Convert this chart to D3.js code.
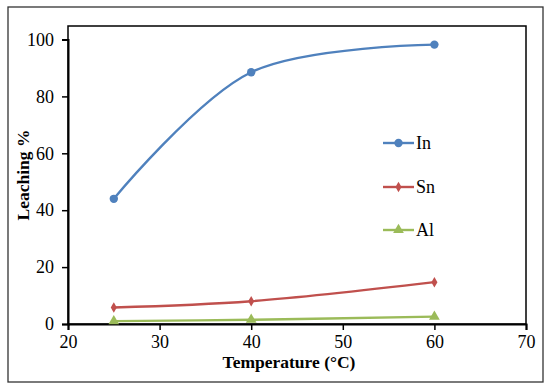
<!DOCTYPE html>
<html>
<head>
<meta charset="utf-8">
<script src="https://cdn.jsdelivr.net/npm/d3@7"></script>
<style>
  body { margin: 0; background: #fff; }
  svg text { font-family: "Liberation Serif", "Times New Roman", serif; fill: #000; }
</style>
</head>
<body>
<div id="chart"></div>
<script>
// data
const temps = [25, 40, 60];
const seriesNames = ["In", "Sn", "Al"];
const inValues = [44, 88.5, 98.2];
const snValues = [5.8, 8.0, 14.7];
const alValues = [1.0, 1.5, 2.6];
const xTicks = [20, 30, 40, 50, 60, 70];
const yTicks = [0, 20, 40, 60, 80, 100];

const width = 550, height = 389;
const serif = "'Liberation Serif', 'Times New Roman', serif";
const svg = d3.select("#chart").append("svg")
    .attr("width", width)
    .attr("height", height);

// outer chart border
svg.append("rect")
    .attr("x", 8).attr("y", 7)
    .attr("width", 535).attr("height", 375)
    .attr("fill", "none")
    .attr("stroke", "#333")
    .attr("stroke-width", 1.3);

const plotLeft = 68, plotRight = 526, plotTop = 26, plotBottom = 324;

const x = d3.scaleLinear().domain([20, 70]).range([plotLeft, plotRight]);
const y = d3.scaleLinear().domain([0, 100]).range([plotBottom, 39.5]);

// plot frame
svg.append("rect")
    .attr("x", plotLeft).attr("y", plotTop)
    .attr("width", plotRight - plotLeft).attr("height", plotBottom - plotTop)
    .attr("fill", "none")
    .attr("stroke", "#000")
    .attr("stroke-width", 1.5);

// axes
const xAxis = svg.append("g")
    .attr("transform", "translate(0," + plotBottom + ")")
    .call(d3.axisBottom(x).tickValues(xTicks).tickSize(6).tickPadding(5));
const yAxis = svg.append("g")
    .attr("transform", "translate(" + plotLeft + ",0)")
    .call(d3.axisLeft(y).tickValues(yTicks).tickSize(6).tickPadding(8));

[xAxis, yAxis].forEach(function(g) {
    g.attr("font-family", null);
    g.select(".domain").attr("stroke", "#000").attr("stroke-width", 2);
    g.selectAll(".tick line").attr("stroke", "#000").attr("stroke-width", 1.5);
    g.selectAll(".tick text")
        .style("font-family", serif)
        .style("font-size", "18px")
        .attr("fill", "#000");
});

// axis titles
svg.append("text")
    .attr("x", 289).attr("y", 368)
    .attr("text-anchor", "middle")
    .style("font-family", serif)
    .style("font-size", "17.5px")
    .attr("font-weight", "bold")
    .text("Temperature (°C)");
svg.append("text")
    .attr("transform", "translate(29,175) rotate(-90)")
    .attr("text-anchor", "middle")
    .style("font-family", serif)
    .style("font-size", "17.5px")
    .attr("font-weight", "bold")
    .text("Leaching %");

const series = [
    { name: seriesNames[0], values: inValues, color: "#4F81BD", symbol: d3.symbolCircle, size: 55 },
    { name: seriesNames[1], values: snValues, color: "#C0504D", symbol: d3.symbolDiamond, size: 32 },
    { name: seriesNames[2], values: alValues, color: "#9BBB59", symbol: d3.symbolTriangle, size: 50 }
];

series.forEach(function(s) {
    const pts = temps.map(function(t, i) { return [t, s.values[i]]; });
    const line = d3.line()
        .x(function(d) { return x(d[0]); })
        .y(function(d) { return y(d[1]); })
        .curve(d3.curveCatmullRom.alpha(0.5));
    svg.append("path")
        .datum(pts)
        .attr("d", line)
        .attr("fill", "none")
        .attr("stroke", s.color)
        .attr("stroke-width", 2.4);
    svg.selectAll(null)
        .data(pts)
        .enter()
        .append("path")
            .attr("transform", function(d) { return "translate(" + x(d[0]) + "," + y(d[1]) + ")"; })
            .attr("d", d3.symbol().type(s.symbol).size(s.size))
            .attr("fill", s.color);
});

// legend
const legendY = [143, 187, 230];
series.forEach(function(s, i) {
    const g = svg.append("g").attr("transform", "translate(383," + legendY[i] + ")");
    g.append("line")
        .attr("x1", 0).attr("x2", 31)
        .attr("stroke", s.color)
        .attr("stroke-width", 2.4);
    g.append("path")
        .attr("transform", "translate(15.5,0)")
        .attr("d", d3.symbol().type(s.symbol).size(s.size))
        .attr("fill", s.color);
    g.append("text")
        .attr("x", 33).attr("y", 6)
        .style("font-family", serif)
        .style("font-size", "18px")
        .text(s.name);
});
</script>
</body>
</html>
